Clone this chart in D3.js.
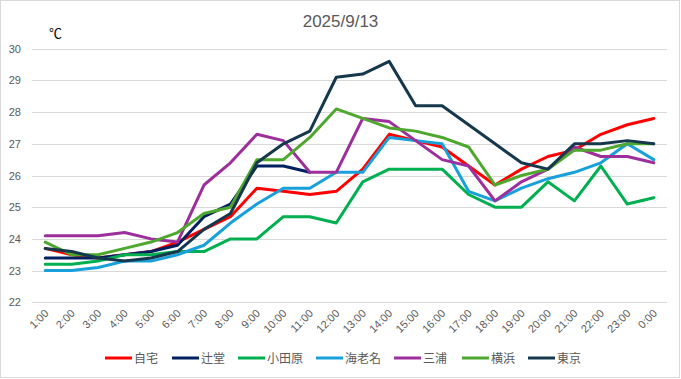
<!DOCTYPE html>
<html><head><meta charset="utf-8">
<script src="https://cdn.jsdelivr.net/npm/d3@7"></script>
<style>body{margin:0;background:#fff;}svg{display:block;}</style>
</head><body>
<svg id="c" width="681" height="379"></svg>
<script>
const hours = ["1:00","2:00","3:00","4:00","5:00","6:00","7:00","8:00","9:00","10:00","11:00","12:00","13:00","14:00","15:00","16:00","17:00","18:00","19:00","20:00","21:00","22:00","23:00","0:00"];
const seriesNames = ["自宅","辻堂","小田原","海老名","三浦","横浜","東京"];
const jitaku   = [23.7,23.5,23.4,23.5,23.6,23.9,24.3,24.7,25.6,25.5,25.4,25.5,26.2,27.3,27.1,26.9,26.3,25.7,26.2,26.6,26.8,27.3,27.6,27.8];
const tsujido  = [23.4,23.4,23.4,23.5,23.6,23.8,24.7,25.1,26.3,26.3,26.1,null,null,null,null,null,null,null,null,null,null,null,null,null];
const odawara  = [23.2,23.2,23.3,23.5,23.5,23.6,23.6,24.0,24.0,24.7,24.7,24.5,25.8,26.2,26.2,26.2,25.4,25.0,25.0,25.8,25.2,26.3,25.1,25.3];
const ebina    = [23.0,23.0,23.1,23.3,23.3,23.5,23.8,24.5,25.1,25.6,25.6,26.1,26.1,27.2,27.1,27.0,25.5,25.2,25.6,25.9,26.1,26.4,27.0,26.5];
const miura    = [24.1,24.1,24.1,24.2,24.0,23.9,25.7,26.4,27.3,27.1,26.1,26.1,27.8,27.7,27.1,26.5,26.3,25.2,25.8,26.2,26.9,26.6,26.6,26.4];
const yokohama = [23.9,23.5,23.5,23.7,23.9,24.2,24.8,25.0,26.5,26.5,27.2,28.1,27.8,27.5,27.4,27.2,26.9,25.7,26.0,26.2,26.8,26.8,27.0,27.0];
const tokyo    = [23.7,23.6,23.4,23.3,23.4,23.6,24.3,24.8,26.4,27.0,27.4,29.1,29.2,29.6,28.2,28.2,27.6,27.0,26.4,26.2,27.0,27.0,27.1,27.0];
const yTicks = [22,23,24,25,26,27,28,29,30];
const title = "2025/9/13";
const unit = "℃";

const colors = ["#FF0000","#002060","#00B050","#17A0DA","#9C2F9B","#4EA72E","#16384D"];
const allSeries = [jitaku,tsujido,odawara,ebina,miura,yokohama,tokyo];

const svg = d3.select("#c");
const font = "'Liberation Sans', Arial, sans-serif";
const jfont = "'Noto Sans CJK JP', sans-serif";

svg.append("rect").attr("x",0.5).attr("y",0.5).attr("width",679).attr("height",377)
  .attr("fill","#fff").attr("stroke","#d9d9d9");

const x = d3.scalePoint().domain(hours).range([32,667]).padding(0.5);
const y = d3.scaleLinear().domain([22,30]).range([302.3,48.7]);

// grid
svg.append("g").selectAll("line").data(yTicks).join("line")
  .attr("x1",32).attr("x2",667)
  .attr("y1",d=>Math.round(y(d))+0.5).attr("y2",d=>Math.round(y(d))+0.5)
  .attr("stroke","#d9d9d9").attr("stroke-width",1);

// y labels
svg.append("g").selectAll("text").data(yTicks).join("text")
  .attr("x",21).attr("y",d=>y(d)+4)
  .attr("text-anchor","end").attr("font-family",font).attr("font-size",11)
  .attr("fill","#595959").text(d=>d);

// x labels
svg.append("g").selectAll("text").data(hours).join("text")
  .attr("transform",d=>`translate(${x(d)+4},${314}) rotate(-45)`)
  .attr("text-anchor","end").attr("font-family",font).attr("font-size",11)
  .attr("fill","#595959").text(d=>d);

// lines
const line = d3.line().defined(d=>d!=null).x((d,i)=>x(hours[i])).y(d=>y(d));
allSeries.forEach((s,k)=>{
  svg.append("path").datum(s).attr("d",line)
    .attr("fill","none").attr("stroke",colors[k]).attr("stroke-width",3)
    .attr("stroke-linejoin","round").attr("stroke-linecap","round");
});

// title
svg.append("text").attr("x",340.5).attr("y",27).attr("text-anchor","middle")
  .attr("font-family",font).attr("font-size",17).attr("fill","#595959").text(title);
svg.append("text").attr("x",49).attr("y",38)
  .attr("font-family",jfont).attr("font-size",13).attr("fill","#000").text(unit);

// legend
const legX = [105,172,238,316,394,462,528];
const lg = svg.append("g");
seriesNames.forEach((n,k)=>{
  lg.append("line").attr("x1",legX[k]).attr("x2",legX[k]+27).attr("y1",358).attr("y2",358)
    .attr("stroke",colors[k]).attr("stroke-width",3);
  lg.append("text").attr("x",legX[k]+29).attr("y",362.5)
    .attr("font-family",jfont).attr("font-size",12).attr("fill","#595959").text(n);
});
</script>
</body></html>
